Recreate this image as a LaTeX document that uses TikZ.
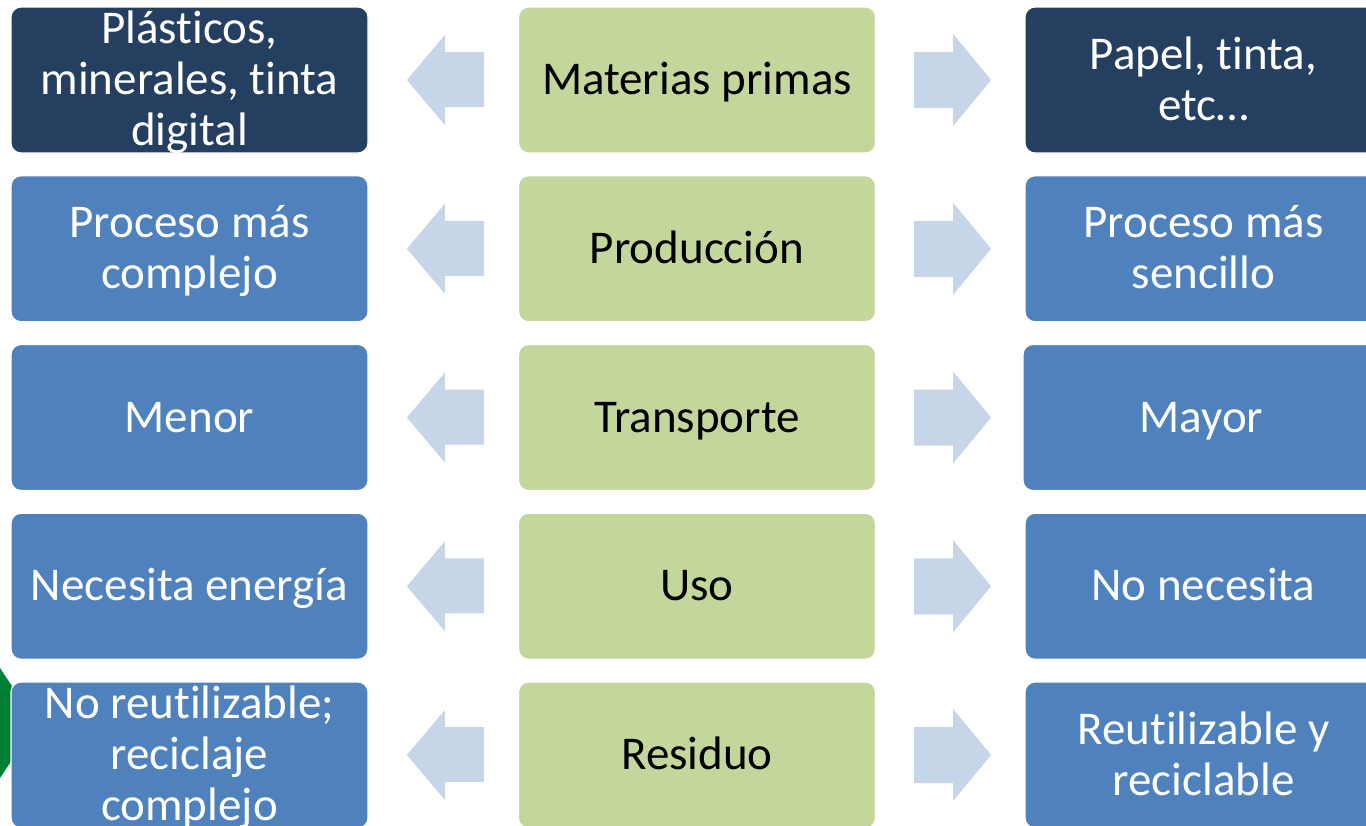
\documentclass[tikz,border=0pt]{standalone}
\usepackage{fontspec}
\setmainfont{Carlito}[Ligatures={NoCommon,NoContextual,NoRare}, Contextuals={NoAlternate}]
\usetikzlibrary{calc}
\definecolor{navy}{RGB}{36,63,96}
\definecolor{midblue}{RGB}{79,129,189}
\definecolor{lgreen}{RGB}{195,214,155}
\definecolor{arrowblue}{RGB}{198,213,231}
\definecolor{dgreen}{RGB}{0,128,55}
\newcommand\ms{\rule[-11pt]{0pt}{51pt}}
\newcommand\ti{t\kern0pt i}
\tikzset{
  box/.style={rectangle, rounded corners=10pt, minimum width=357pt, minimum height=146pt,
    inner sep=0pt, align=center, font=\fontsize{47}{51}\selectfont, draw=white, line width=1.2pt},
  darkbox/.style={box, fill=navy, text=white},
  bluebox/.style={box, fill=midblue, text=white},
  greenbox/.style={box, fill=lgreen, text=black},
  txt/.style={inner sep=0pt, align=center, font=\fontsize{47}{51}\selectfont, text=white},
  arr/.style={fill=arrowblue, draw=none}
}
\begin{document}
\begin{tikzpicture}[x=1pt,y=-1pt]
\useasboundingbox (0,0) rectangle (1366,825);
\clip (0,0) rectangle (1366,825);
% green shape partly hidden at left
\fill[dgreen] (0,668) -- (12,686) -- (12,760) -- (0,778) -- cycle;
% row 1
\node[darkbox, label={[txt]center:{\ms Plás\ti cos,\\\ms minerales, \ti nta\\\ms digital}}] (l1) at (189.5,80) {};
\node[greenbox] (c1) at (697,80) {\ms Materias primas};
\node[darkbox] (r1) at (1203.5,80) {\ms Papel, \ti nta,\\\ms etc…};
% row 2
\node[bluebox] (l2) at (189.5,248.75) {\ms Proceso más\\\ms complejo};
\node[greenbox] (c2) at (697,248.75) {\ms Producción};
\node[bluebox] (r2) at (1203.5,248.75) {\ms Proceso más\\\ms sencillo};
% row 3
\node[bluebox] (l3) at (189.5,417.5) {\ms Menor};
\node[greenbox] (c3) at (697,417.5) {\ms Transporte};
\node[bluebox] (r3) at (1201.5,417.5) {\ms Mayor};
% row 4
\node[bluebox] (l4) at (189.5,586.25) {\ms Necesita energía};
\node[greenbox] (c4) at (697,586.25) {\ms Uso};
\node[bluebox] (r4) at (1203.5,586.25) {\ms No necesita};
% row 5
\node[bluebox, label={[txt]center:{\ms No reu\ti lizable;\\\ms reciclaje\\\ms complejo}}] (l5) at (189.5,755) {};
\node[greenbox] (c5) at (697,755) {\ms Residuo};
\node[bluebox] (r5) at (1203.5,755) {\ms Reu\ti lizable y\\\ms reciclable};
% arrows
\foreach \i in {1,...,5}{
  \fill[arr] ($(c\i.west)+(-111,0)$) -- ++(38,-45) -- ++(0,17) -- ++(39,0) -- ++(0,55) -- ++(-39,0) -- ++(0,18) -- cycle;
  \fill[arr] ($(c\i.east)+(38,-28)$) -- ++(39,0) -- ++(0,-18) -- ++(38,46) -- ++(-38,46) -- ++(0,-18) -- ++(-39,0) -- cycle;
}
\end{tikzpicture}
\end{document}
